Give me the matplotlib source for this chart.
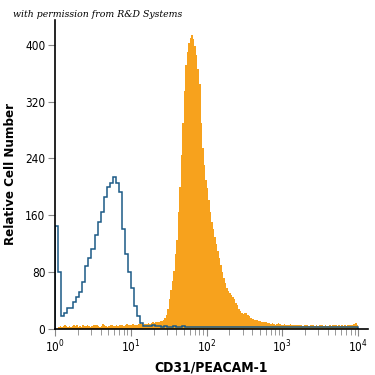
import numpy as np
import matplotlib
matplotlib.use('Agg')
import matplotlib.pyplot as plt
from matplotlib.ticker import LogLocator, NullFormatter

# 字体 (窄体)
plt.rcParams['font.family'] = ['DejaVu Sans']
plt.rcParams['font.stretch'] = 'condensed'

# 同型对照: log10 从 0 到 4, 每格 0.04
iso_edges = 10 ** np.linspace(0, 4, 101)
isotype = [145, 80, 18, 22, 30, 30, 38, 45, 52, 66,
           88, 100, 112, 132, 150, 165, 185, 200, 205, 214,
           205, 192, 140, 105, 80, 58, 32, 18, 8, 4,
           4, 4, 5, 4, 4, 3, 4, 3, 3, 4,
           3, 3, 4, 3, 3, 2, 3, 3, 2, 3,
           3, 2, 3, 3, 2, 2, 3, 2, 2, 2,
           3, 2, 2, 3, 2, 2, 2, 2, 3, 2,
           2, 2, 2, 2, 3, 2, 2, 2, 2, 2,
           2, 2, 2, 2, 3, 2, 2, 2, 2, 2,
           2, 2, 2, 2, 2, 2, 2, 2, 3, 2]

# CD31 染色: 每格 0.02
cd31_edges = 10 ** np.linspace(0, 4, 201)
cd31 = [0, 0, 3, 4, 3, 4, 5, 4, 3, 4,
        3, 4, 6, 4, 5, 3, 4, 3, 5, 4,
        4, 5, 4, 3, 4, 5, 6, 5, 4, 3,
        4, 7, 5, 4, 3, 4, 5, 6, 4, 4,
        5, 4, 6, 5, 5, 4, 5, 7, 6, 5,
        6, 7, 6, 5, 6, 7, 8, 7, 6, 7,
        7, 8, 7, 8, 9, 8, 9, 10, 10, 11,
        11, 12, 15, 20, 28, 42, 55, 68, 82, 105,
        125, 165, 200, 245, 290, 335, 372, 390, 402, 410,
        414, 408, 398, 386, 366, 345, 290, 255, 230, 210,
        198, 182, 165, 150, 140, 130, 120, 110, 100, 90,
        80, 72, 64, 58, 53, 50, 47, 45, 42, 37,
        33, 28, 25, 22, 21, 22, 23, 20, 18, 16,
        14, 13, 12, 12, 11, 11, 10, 10, 9, 9,
        8, 8, 7, 8, 7, 6, 7, 8, 7, 6,
        6, 7, 6, 5, 6, 7, 6, 5, 6, 5,
        5, 6, 5, 4, 5, 6, 5, 4, 5, 6,
        5, 4, 5, 4, 5, 6, 5, 4, 5, 4,
        4, 5, 4, 5, 6, 5, 4, 5, 4, 5,
        4, 5, 4, 5, 6, 5, 6, 7, 8, 5]

fig = plt.figure(figsize=(3.75, 3.75), dpi=100)
ax = fig.add_axes([0.147, 0.123, 0.834, 0.824])

ax.stairs(cd31, cd31_edges, fill=True, color='#f7a21d', baseline=0)
ax.stairs(isotype, iso_edges, fill=False, color='#1b5a86', linewidth=1.1, baseline=0)

ax.set_xscale('log')
ax.set_xlim(1, 10 ** 4.13)
ax.set_ylim(0, 435)

ax.set_yticks([0, 80, 160, 240, 320, 400])
ax.xaxis.set_major_locator(LogLocator(base=10, numticks=10))
ax.xaxis.set_minor_locator(LogLocator(base=10, subs=np.arange(2, 10), numticks=10))
ax.xaxis.set_minor_formatter(NullFormatter())

for s in ['top', 'right']:
    ax.spines[s].set_visible(False)
ax.spines['left'].set_linewidth(1.2)
ax.spines['bottom'].set_linewidth(1.2)

ax.tick_params(axis='both', which='major', direction='out', length=5, width=0.8,
               color='#888888', labelsize=8.5, pad=2)
ax.tick_params(axis='x', which='minor', direction='out', length=4, width=0.6, color='#888888')

ax.set_xlabel('CD31/PEACAM-1', fontsize=10, fontweight='bold', labelpad=4)
ax.set_ylabel('Relative Cell Number', fontsize=9.5, fontweight='bold', labelpad=6)

fig.text(0.035, 0.955, 'with permission from R&D Systems', fontsize=7.5,
         style='italic', family=['DejaVu Serif'])

plt.savefig('out.png', dpi=100)
